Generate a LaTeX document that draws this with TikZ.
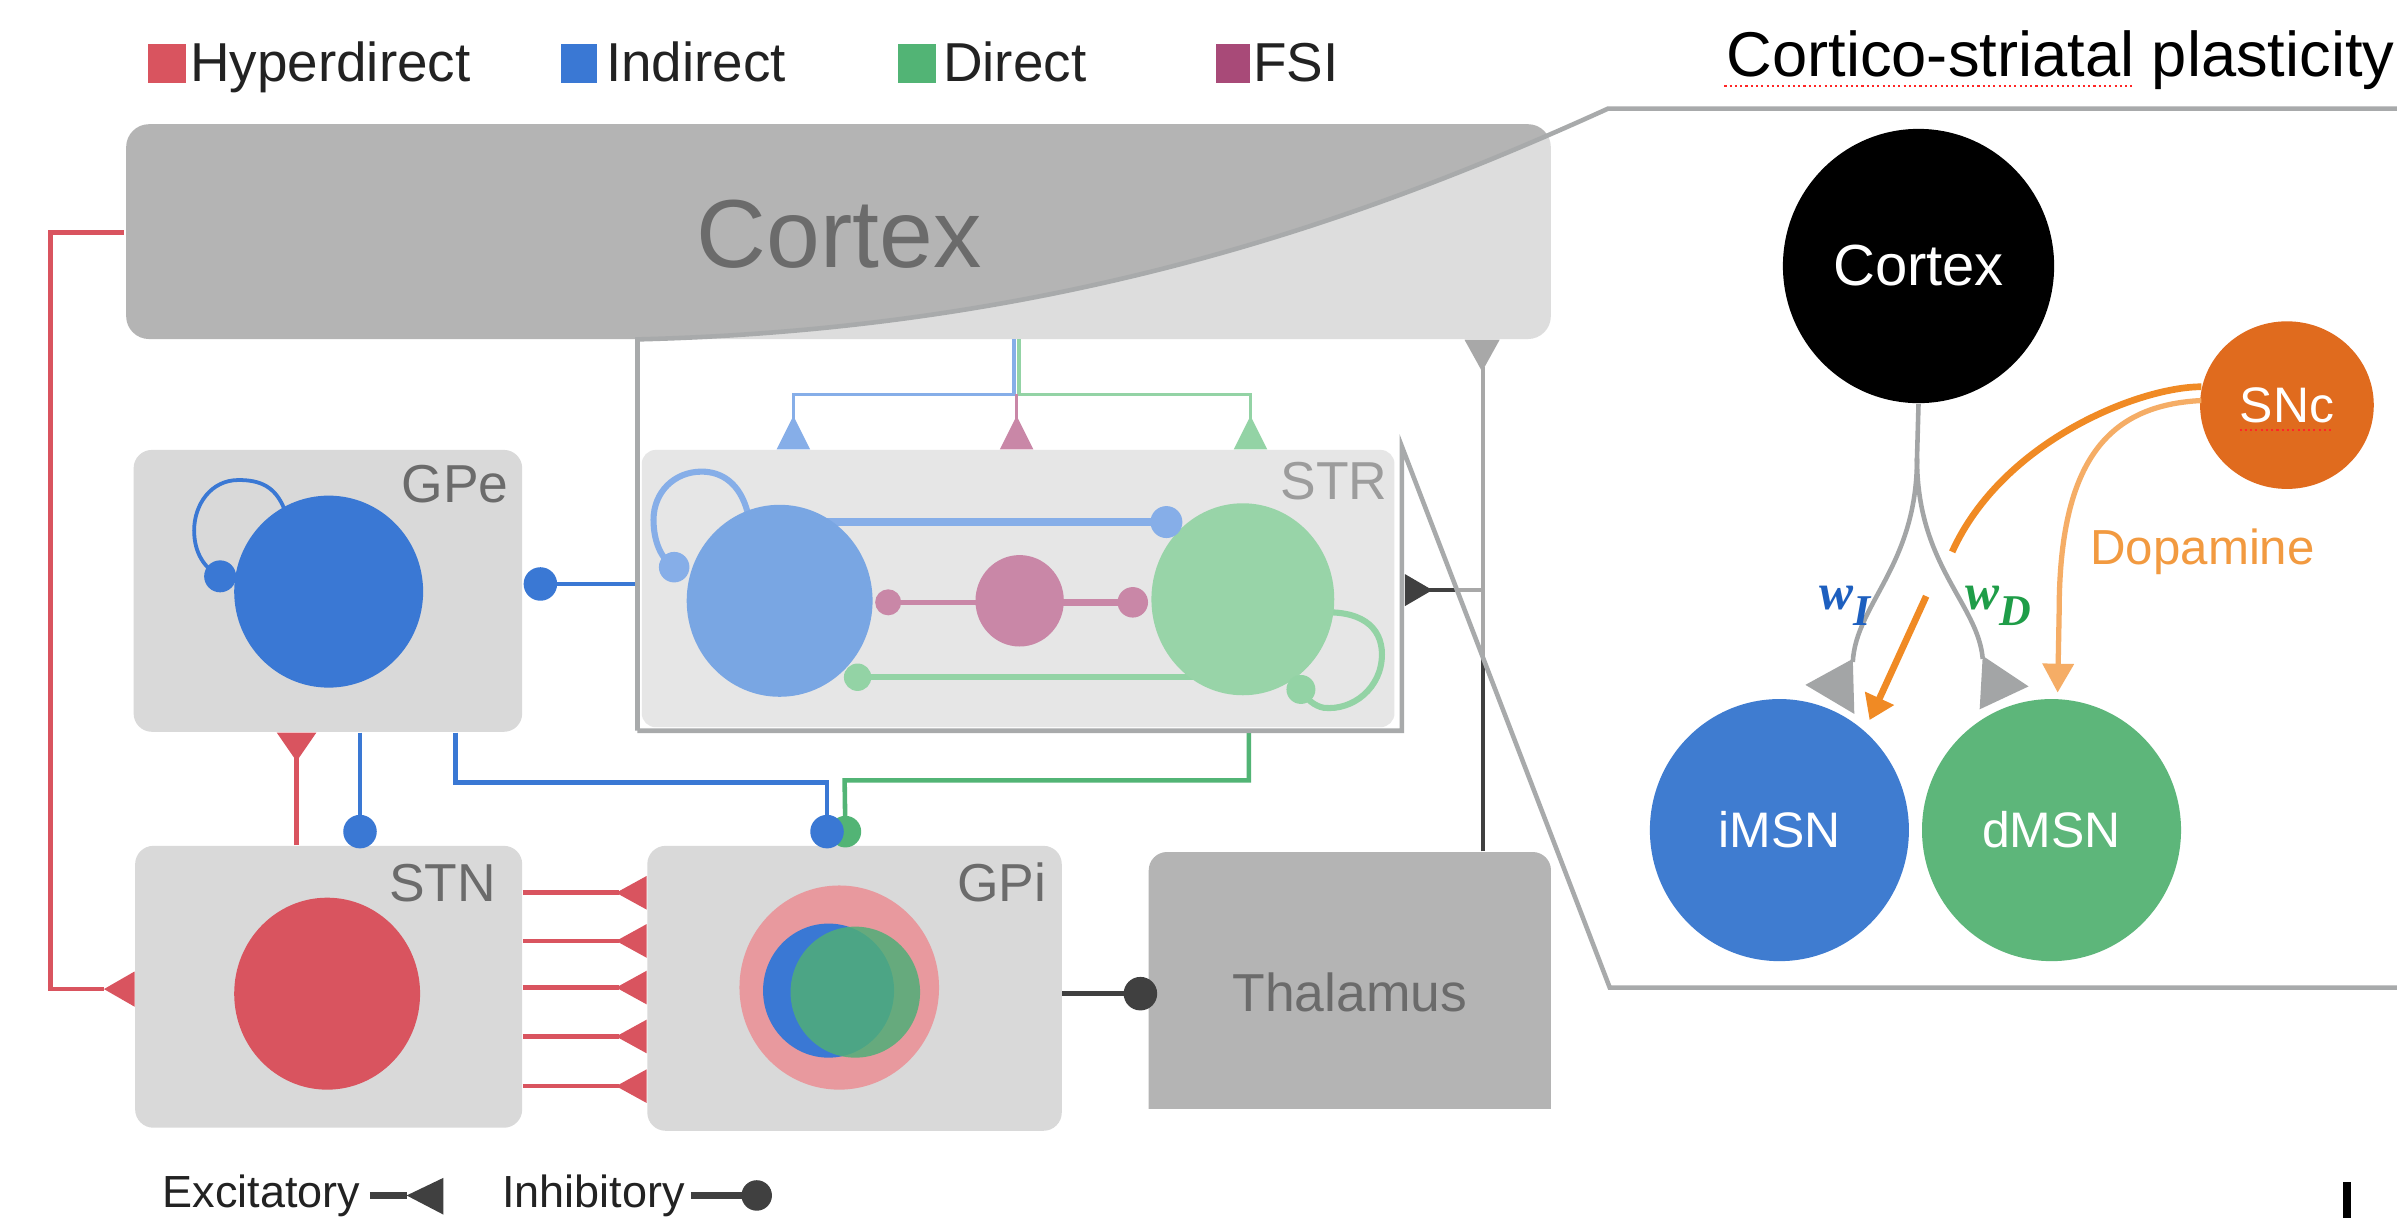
\documentclass[tikz,border=0pt]{standalone}
\usepackage{fontspec}
\setmainfont{Liberation Sans}
\newfontfamily\wfont{Liberation Serif}
\usetikzlibrary{arrows.meta,shapes.geometric}
\newcommand{\pp}[1]{#1*0.4335pt}
\definecolor{hyp}{HTML}{D9545F}
\definecolor{ind}{HTML}{3A78D4}
\definecolor{dir}{HTML}{52B475}
\definecolor{fsi}{HTML}{A84A78}
\definecolor{boxg}{HTML}{D9D9D9}
\definecolor{ctxg}{HTML}{B4B4B4}
\definecolor{strfill}{HTML}{E6E6E6}
\definecolor{labg}{HTML}{6B6B6B}
\definecolor{strlab}{HTML}{9C9C9C}
\definecolor{lens}{HTML}{A8AAAB}
\definecolor{dk}{HTML}{404040}
\definecolor{sblue}{HTML}{79A6E3}
\definecolor{sblueln}{HTML}{86AEE8}
\definecolor{sgreen}{HTML}{98D4A8}
\definecolor{sgreenln}{HTML}{93D3A5}
\definecolor{spink}{HTML}{C987A7}
\definecolor{gpipink}{HTML}{E8999E}
\definecolor{gpigreen}{HTML}{50AE78}
\definecolor{orD}{HTML}{F08A24}
\definecolor{orL}{HTML}{F5AD66}
\definecolor{dopa}{HTML}{F29A40}
\definecolor{snc}{HTML}{E06B1E}
\definecolor{imsn}{HTML}{3F7CD0}
\definecolor{dmsn}{HTML}{5DB67A}
\definecolor{wIc}{HTML}{1D5FBF}
\definecolor{wDc}{HTML}{1F9D48}
\definecolor{synG}{HTML}{A3A5A6}
\definecolor{legtxt}{HTML}{222222}
\tikzset{
  boxnode/.style={fill=boxg, rounded corners=5.2pt, inner sep=0pt},
  labnode/.style={text=labg, font=\fontsize{15.2}{18}\selectfont, inner sep=0pt},
  cellnode/.style={ellipse, inner sep=0pt},
  legtext/.style={font=\fontsize{15.6}{18}\selectfont, text=legtxt, anchor=base west, inner sep=0pt},
  wire/.style={line width=1.3pt},
  thinwire/.style={line width=1.08pt},
  rlabel/.style={text=white, font=\fontsize{14.2}{16}\selectfont},
}
\begin{document}
\begin{tikzpicture}[x=0.15287mm,y=-0.15287mm]
\useasboundingbox (0,0) rectangle (1568,797);
\fill[white] (0,0) rectangle (1568,797);

% ---------- legend ----------
\fill[hyp] (97,29) rectangle (121.5,54.5);
\node[legtext] (lh) at (124,53.4) {Hyperdirect};
\fill[ind] (367,29) rectangle (390.5,54.5);
\node[legtext] (li) at (396,53.4) {Indirect};
\fill[dir] (587.5,29) rectangle (612,54.5);
\node[legtext] (ld) at (616.5,53.4) {Direct};
\fill[fsi] (795.5,29) rectangle (818,54.5);
\node[legtext] (lf) at (819.5,53.4) {FSI};

% ---------- hyperdirect ----------
\coordinate (hypA) at (81,152);
\coordinate (hypB) at (68,647);
\draw[hyp, wire] (hypA) -| (33,647) -- (hypB);
\fill[hyp] (hypB) -- (88,635.5) -- (88,658.5) -- cycle;

% ---------- boxes ----------
\node[boxnode, fill=ctxg, rounded corners=6.5pt, minimum width=\pp{935}, minimum height=\pp{141}] (ctx) at (548.5,151.5) {};
\node[font=\fontsize{27.5}{30}\selectfont, text=labg, inner sep=0pt] (ctxl) at (549,153) {Cortex};
\node[boxnode, minimum width=\pp{255}, minimum height=\pp{185}] (gpe) at (214.5,386.5) {};
\node[labnode, anchor=base east] (gpel) at (333,329) {GPe};
\node[boxnode, minimum width=\pp{254}, minimum height=\pp{185}] (stn) at (215,645.5) {};
\node[labnode, anchor=base east] (stnl) at (325,590) {STN};
\node[boxnode, minimum width=\pp{272}, minimum height=\pp{187}] (gpi) at (559,646.5) {};
\node[labnode, anchor=base east] (gpil) at (685,590) {GPi};
\begin{scope}
  \clip (740,540) rectangle (1030,725);
  \node[boxnode, fill=ctxg, minimum width=\pp{264}, minimum height=\pp{200}] (thal) at (883,657) {};
\end{scope}
\node[labnode] (thall) at (883,649) {Thalamus};

% ---------- cells ----------
\draw[ind, thinwire] (186,333) .. controls (180,318) and (170,314) .. (156,314) .. controls (138,314) and (127,330) .. (127,347) .. controls (127,362) and (134,372) .. (144,377);
\node[cellnode, fill=ind, minimum width=\pp{124}, minimum height=\pp{126}] (gpec) at (215,387) {};
\fill[ind] (144,377) circle (4.55pt);
\node[cellnode, fill=hyp, minimum width=\pp{122}, minimum height=\pp{126}] (stnc) at (214,650) {};
\node[cellnode, fill=gpipink, minimum width=\pp{131}, minimum height=\pp{134}] (gpio) at (549,646) {};
\node[cellnode, fill=ind, minimum width=\pp{86}, minimum height=\pp{88}] (gpib) at (542,648) {};
\node[cellnode, fill=gpigreen, fill opacity=0.85, minimum width=\pp{85}, minimum height=\pp{86}] (gpig) at (559.5,649) {};

% ---------- connectors (left panel) ----------
\coordinate (strW) at (417,382);
\coordinate (gpeD) at (353.5,382);
\draw[ind, wire] (strW) -- (gpeD);
\fill[ind] (gpeD) circle (4.77pt);

\draw[hyp, wire] (stn.north -| 194,0) -- (194,496);
\fill[hyp] (gpe.south -| 181,0) -- (gpe.south -| 207,0) -- (194,498) -- cycle;

\coordinate (stnD) at (235.5,544);
\draw[ind, wire] (gpe.south -| 235.5,0) -- (stnD);
\fill[ind] (stnD) circle (4.77pt);

\coordinate (gpiG) at (553,544);
\draw[dir, wire] (817,478) |- (552.5,510.5) -- (gpiG);
\fill[dir] (gpiG) circle (4.5pt);
\coordinate (gpiB) at (541,544);
\draw[ind, wire] (gpe.south -| 298,0) |- (541,512) -- (gpiB);
\fill[ind] (gpiB) circle (4.77pt);

\foreach \yy in {584,615.5,646,678,710.5} {
  \draw[hyp, wire] (342,\yy) -- (405,\yy);
  \fill[hyp] (403,\yy) -- (423,{\yy-11}) -- (423,{\yy+11}) -- cycle;
}

\coordinate (thD) at (746,650);
\draw[dk, wire] (gpi.east |- thD) -- (thD);
\fill[dk] (thD) circle (4.77pt);

\draw[dk, wire] (thal.north -| 970,0) -- (970,240);
\fill[dk] (ctx.south -| 958,0) -- (ctx.south -| 981,0) -- (969.5,243) -- cycle;
\draw[dk, thinwire] (970,386) -- (935,386);
\fill[dk] (937,386) -- (919,375.5) -- (919,396.5) -- cycle;

% ---------- lens overlay ----------
\fill[white, fill opacity=0.55] (417,222) .. controls (700,215) and (900,140) .. (1052,71) -- (1568,71) -- (1568,646) -- (1053,646) -- (917,292) -- (917,478) -- (417,478) -- cycle;

% ---------- STR ----------
\node[boxnode, fill=strfill, rounded corners=4pt, minimum width=\pp{494}, minimum height=\pp{182}] (str) at (666,385) {};
\node[labnode, text=strlab, anchor=base east] (strl) at (908,327) {STR};

\draw[sblueln, thinwire] (663.5,222) -- (663.5,258) -- (519,258) -- (519,276);
\draw[sgreenln, thinwire] (666.5,222) -- (666.5,258) -- (818,258) -- (818,276);
\draw[spink, thinwire] (665,258) -- (665,276);
\fill[sblueln] (519,272) -- (530,294) -- (508,294) -- cycle;
\fill[spink] (665,272) -- (676,294) -- (654,294) -- cycle;
\fill[sgreenln] (818,272) -- (829,294) -- (807,294) -- cycle;

\draw[sblueln, line width=1.73pt] (489,335) .. controls (484,316) and (472,308.5) .. (459,308.5) .. controls (441,308.5) and (427.5,322) .. (427.5,340) .. controls (427.5,355) and (433,366) .. (441,371);
\draw[sgreenln, line width=1.73pt] (860,401) .. controls (890,398) and (904,410) .. (904,428) .. controls (904,450) and (885,465) .. (866,463) .. controls (860,462) and (854,457) .. (851,451);
\draw[sblueln, line width=2.17pt] (530,341.5) -- (763,341.5);
\draw[spink, wire] (650,394) -- (581,394);
\draw[spink, line width=2.17pt] (690,394) -- (741,394);
\draw[sgreenln, line width=1.6pt] (790,443) -- (561,443);

\node[cellnode, fill=sblue, minimum width=\pp{122}, minimum height=\pp{126}] (strB) at (510,393) {};
\node[cellnode, fill=sgreen, minimum width=\pp{120}, minimum height=\pp{126}] (strG) at (813,392) {};
\node[cellnode, fill=spink, minimum width=\pp{58}, minimum height=\pp{60}] (strP) at (667,393) {};

\fill[sblueln] (763,341.5) circle (4.55pt);
\fill[sblueln] (441,371) circle (4.34pt);
\fill[spink] (581,394) circle (3.7pt);
\fill[spink] (741,394) circle (4.34pt);
\fill[sgreenln] (561,443) circle (3.9pt);
\fill[sgreenln] (851,451) circle (4.12pt);

% ---------- lens outline ----------
\draw[lens, wire] (417,478) -- (417,222) .. controls (700,215) and (900,140) .. (1052,71) -- (1568,71);
\draw[lens, wire] (1568,646) -- (1053,646) -- (917,292) -- (917,478) -- (417,478);

% ---------- right panel ----------
\node[anchor=base west, inner sep=0pt, font=\fontsize{18}{20}\selectfont] (title) at (1129,50) {Cortico-striatal plasticity};
\draw[red!85, line width=0.6pt, dash pattern=on 0.6pt off 0.9pt] (1128,56) -- (1395,56);

\node[cellnode, fill=black, minimum width=\pp{178}, minimum height=\pp{180}, text=white, font=\fontsize{16.5}{18}\selectfont] (rctx) at (1255,174) {Cortex};
\node[cellnode, fill=snc, minimum width=\pp{114}, minimum height=\pp{110}, rlabel] (snc) at (1496,265) {SNc};
\draw[red!85, line width=0.6pt, dash pattern=on 0.6pt off 0.9pt] (1465,281) -- (1526,281);
\node[cellnode, fill=imsn, minimum width=\pp{170}, minimum height=\pp{172}, rlabel] (imsn) at (1164,543) {iMSN};
\node[cellnode, fill=dmsn, minimum width=\pp{170}, minimum height=\pp{172}, rlabel] (dmsn) at (1342,543) {dMSN};

\coordinate (split) at (1254,300);
\draw[synG, wire] (rctx.south) -- (split) .. controls (1254,370) and (1214,395) .. (1212,433);
\draw[synG, wire] (split) .. controls (1254,370) and (1294,395) .. (1297,431);
\fill[synG] (1212,431) -- (1181,448) -- (1213,467) -- cycle;
\fill[synG] (1297,429) -- (1327,449) -- (1295,464) -- cycle;

\coordinate (orA) at (1440,253);
\coordinate (orB) at (1260,390);
\coordinate (orT) at (1223,471);
\draw[orD, line width=1.9pt] (orA) .. controls (1400,253) and (1310,288) .. (1277,361);
\draw[orD, line width=1.9pt, -{Triangle[length=6.8pt,width=8.7pt]}] (orB) -- (orT);
\coordinate (olA) at (1440,262);
\coordinate (olT) at (1346,453);
\draw[orL, line width=1.5pt, -{Triangle[length=8.2pt,width=8.7pt]}] (olA) .. controls (1380,265) and (1347,300) .. (1347,400) -- (olT);

\node[anchor=base west, inner sep=0pt, text=dopa, font=\fontsize{14}{16}\selectfont] (dopl) at (1367,369) {Dopamine};
\node[anchor=base west, inner sep=0pt, text=wIc, font=\wfont\bfseries\itshape\fontsize{14.5}{15}\selectfont] (wi) at (1190,399) {w\raisebox{-4.5pt}{\fontsize{12.5}{13}\selectfont I}};
\node[anchor=base west, inner sep=0pt, text=wDc, font=\wfont\bfseries\itshape\fontsize{14.5}{15}\selectfont] (wd) at (1285,399) {w\raisebox{-4.5pt}{\fontsize{12.5}{13}\selectfont D}};

% ---------- bottom legend ----------
\node[anchor=base west, inner sep=0pt, text=legtxt, font=\fontsize{12.8}{15}\selectfont] (exl) at (106,790) {Excitatory};
\coordinate (exA) at (242,782);
\coordinate (exT) at (266,782);
\draw[dk, line width=2.17pt] (exA) -- (exT);
\fill[dk] (exT) -- (290,770.5) -- (290,794.5) -- cycle;
\node[anchor=base west, inner sep=0pt, text=legtxt, font=\fontsize{12.8}{15}\selectfont] (inl) at (328,790) {Inhibitory};
\coordinate (inA) at (452,782);
\coordinate (inD) at (495,782);
\draw[dk, line width=2.17pt] (inA) -- (inD);
\fill[dk] (inD) circle (4.34pt);

\fill[black] (1532.5,773) rectangle (1538,797);
\end{tikzpicture}
\end{document}
